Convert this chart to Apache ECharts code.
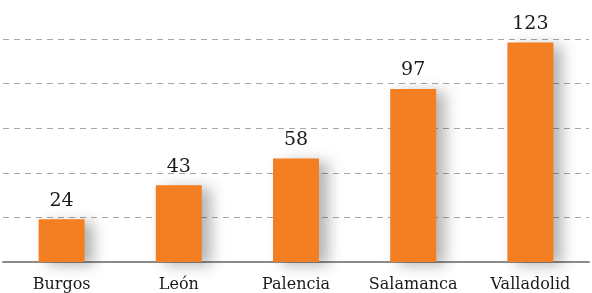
<!DOCTYPE html>
<html>
<head>
<meta charset="utf-8">
<script src="https://cdn.jsdelivr.net/npm/echarts@6/dist/echarts.min.js"></script>
<style>
  html, body { margin: 0; padding: 0; background: #fff; }
  #chart { width: 592px; height: 293px; }
</style>
</head>
<body>
<div id="chart"></div>
<script>
const provinces = ['Burgos', 'León', 'Palencia', 'Salamanca', 'Valladolid'];
const values = [24, 43, 58, 97, 123];

const myChart = echarts.init(document.getElementById('chart'));

const option = {
    animation: false,
    grid: {
        top: 39,
        left: 3,
        right: 3,
        bottom: 31
    },
    xAxis: {
        type: 'category',
        data: provinces,
        axisTick: { show: false },
        axisLine: {
            lineStyle: { color: '#8c8c8c', width: 2 }
        },
        axisLabel: {
            color: '#1a1a1a',
            fontFamily: 'DejaVu Serif',
            fontSize: 16,
            margin: 15
        }
    },
    yAxis: {
        type: 'value',
        min: 0,
        max: 125,
        interval: 25,
        axisLabel: { show: false },
        axisLine: { show: false },
        axisTick: { show: false },
        splitLine: {
            lineStyle: {
                color: '#a8a8a8',
                type: [6, 5],
                width: 1
            }
        }
    },
    series: [{
        type: 'bar',
        data: values,
        barWidth: 46,
        itemStyle: {
            color: '#f47e22',
            shadowColor: 'rgba(0, 0, 0, 0.3)',
            shadowBlur: 14,
            shadowOffsetX: 9,
            shadowOffsetY: 3
        },
        label: {
            show: true,
            position: 'top',
            distance: 9,
            color: '#1a1a1a',
            fontFamily: 'DejaVu Serif',
            fontSize: 19
        }
    }]
};

myChart.setOption(option);
</script>
</body>
</html>
